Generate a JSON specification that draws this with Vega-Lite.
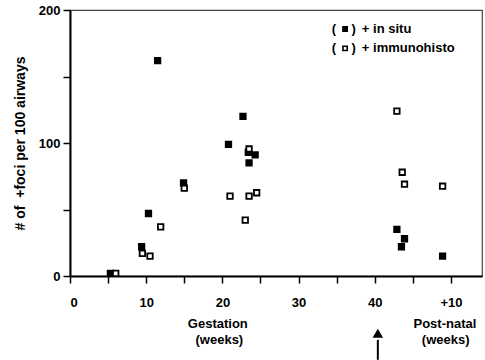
{
  "$schema": "https://vega.github.io/schema/vega-lite/v6.json",
  "width": 412,
  "height": 266,
  "autosize": {"type": "none"},
  "padding": {"left": 70, "top": 10, "right": 3, "bottom": 84},
  "background": "white",
  "config": {
    "font": "Liberation Sans",
    "view": {"stroke": "#444", "strokeWidth": 1.2},
    "axis": {"grid": false, "domainColor": "black", "tickColor": "black", "labelColor": "black", "titleColor": "black", "labelFont": "Liberation Sans", "titleFont": "Liberation Sans", "labelFontWeight": "bold", "titleFontWeight": "bold"}
  },
  "datasets": {
    "pts": [
      {"week": 11.5, "foci": 162, "type": "in situ"},
      {"week": 22.7, "foci": 120, "type": "in situ"},
      {"week": 20.8, "foci": 99, "type": "in situ"},
      {"week": 23.4, "foci": 93, "type": "in situ"},
      {"week": 24.3, "foci": 91, "type": "in situ"},
      {"week": 23.5, "foci": 85, "type": "in situ"},
      {"week": 14.9, "foci": 70, "type": "in situ"},
      {"week": 10.3, "foci": 47, "type": "in situ"},
      {"week": 9.4, "foci": 22, "type": "in situ"},
      {"week": 5.3, "foci": 2, "type": "in situ"},
      {"week": 42.9, "foci": 35, "type": "in situ"},
      {"week": 43.9, "foci": 28, "type": "in situ"},
      {"week": 43.5, "foci": 22, "type": "in situ"},
      {"week": 48.9, "foci": 15, "type": "in situ"},
      {"week": 15.0, "foci": 66, "type": "immunohisto"},
      {"week": 23.5, "foci": 95.5, "type": "immunohisto"},
      {"week": 21.0, "foci": 60, "type": "immunohisto"},
      {"week": 23.5, "foci": 60, "type": "immunohisto"},
      {"week": 24.5, "foci": 62.6, "type": "immunohisto"},
      {"week": 23.0, "foci": 42, "type": "immunohisto"},
      {"week": 11.9, "foci": 37, "type": "immunohisto"},
      {"week": 9.5, "foci": 17, "type": "immunohisto"},
      {"week": 10.5, "foci": 15, "type": "immunohisto"},
      {"week": 6.0, "foci": 2, "type": "immunohisto"},
      {"week": 42.9, "foci": 124, "type": "immunohisto"},
      {"week": 43.6, "foci": 78, "type": "immunohisto"},
      {"week": 43.9, "foci": 69, "type": "immunohisto"},
      {"week": 48.9, "foci": 67.5, "type": "immunohisto"}
    ],
    "legend": [
      {"x": 36.1, "y": 185.7, "type": "in situ", "lp": 34.35, "rp": 36.95, "tx": 38.3, "label": "+ in situ"},
      {"x": 36.1, "y": 171.2, "type": "immunohisto", "lp": 34.35, "rp": 36.95, "tx": 38.3, "label": "+ immunohisto"}
    ],
    "notes": [
      {"x": 19.4, "y": -36, "label": "Gestation"},
      {"x": 19.6, "y": -48, "label": "(weeks)"},
      {"x": 49.2, "y": -36, "label": "Post-natal"},
      {"x": 49.3, "y": -48, "label": "(weeks)"}
    ],
    "arrow": [{"x": 40.4, "y": -48, "y2": -63, "head": -43}]
  },
  "layer": [
    {
      "data": {"name": "pts"},
      "mark": {"type": "point", "shape": "square", "filled": false, "size": 30, "strokeWidth": 1.8, "stroke": "black", "opacity": 1},
      "encoding": {
        "x": {"field": "week", "type": "quantitative", "scale": {"domain": [0, 54.07], "nice": false, "zero": false},
          "axis": {"values": [0, 5, 10, 15, 20, 25, 30, 35, 40, 45, 50], "labelExpr": "datum.value == 50 ? '+10' : (datum.value % 10 == 0 ? datum.label : '')", "title": null, "domainWidth": 2, "tickWidth": 1.5, "tickSize": 7, "labelPadding": 13, "labelFontSize": 13}},
        "y": {"field": "foci", "type": "quantitative", "scale": {"domain": [0, 200], "nice": false},
          "axis": {"values": [0, 50, 100, 150, 200], "labelExpr": "datum.value % 100 == 0 ? datum.label : ''", "title": "# of \u00a0+foci per 100 airways", "titleFontSize": 14, "titlePadding": 11, "domainWidth": 2, "tickWidth": 1.5, "tickSize": 7, "labelPadding": 3, "labelFontSize": 13}},
        "fill": {"field": "type", "type": "nominal", "scale": {"domain": ["in situ", "immunohisto"], "range": ["black", "white"]}, "legend": null}
      }
    },
    {
      "data": {"name": "legend"},
      "mark": {"type": "point", "shape": "square", "size": 18, "strokeWidth": 1.6, "stroke": "black", "opacity": 1},
      "encoding": {
        "x": {"field": "x", "type": "quantitative"},
        "y": {"field": "y", "type": "quantitative"},
        "fill": {"field": "type", "type": "nominal", "scale": {"domain": ["in situ", "immunohisto"], "range": ["black", "white"]}, "legend": null}
      }
    },
    {
      "data": {"name": "legend"},
      "mark": {"type": "text", "align": "left", "baseline": "middle", "fontSize": 13, "fontWeight": "bold", "color": "black", "text": "("},
      "encoding": {"x": {"field": "lp", "type": "quantitative"}, "y": {"field": "y", "type": "quantitative"}}
    },
    {
      "data": {"name": "legend"},
      "mark": {"type": "text", "align": "left", "baseline": "middle", "fontSize": 13, "fontWeight": "bold", "color": "black", "text": ")"},
      "encoding": {"x": {"field": "rp", "type": "quantitative"}, "y": {"field": "y", "type": "quantitative"}}
    },
    {
      "data": {"name": "legend"},
      "mark": {"type": "text", "align": "left", "baseline": "middle", "fontSize": 13, "fontWeight": "bold", "color": "black"},
      "encoding": {"x": {"field": "tx", "type": "quantitative"}, "y": {"field": "y", "type": "quantitative"}, "text": {"field": "label"}}
    },
    {
      "data": {"name": "notes"},
      "mark": {"type": "text", "align": "center", "baseline": "middle", "fontSize": 13, "fontWeight": "bold", "color": "black", "clip": false},
      "encoding": {"x": {"field": "x", "type": "quantitative"}, "y": {"field": "y", "type": "quantitative"}, "text": {"field": "label"}}
    },
    {
      "data": {"name": "arrow"},
      "mark": {"type": "rule", "color": "black", "strokeWidth": 2, "clip": false},
      "encoding": {"x": {"field": "x", "type": "quantitative"}, "y": {"field": "y", "type": "quantitative"}, "y2": {"field": "y2"}}
    },
    {
      "data": {"name": "arrow"},
      "mark": {"type": "point", "shape": "triangle-up", "filled": true, "color": "black", "size": 110, "opacity": 1, "clip": false},
      "encoding": {"x": {"field": "x", "type": "quantitative"}, "y": {"field": "head", "type": "quantitative"}}
    }
  ]
}
